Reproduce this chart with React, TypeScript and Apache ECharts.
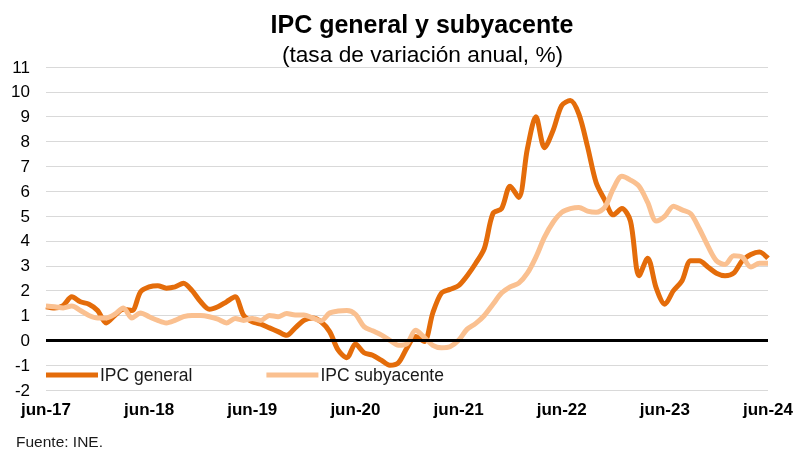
import React, { useEffect, useRef } from "react";
import * as echarts from "echarts";

const monthNames = ["ene", "feb", "mar", "abr", "may", "jun", "jul", "ago", "sep", "oct", "nov", "dic"];
const categories: string[] = [];
for (let k = 0; k < 85; k++) {
  const m = (5 + k) % 12;
  const y = 17 + Math.floor((5 + k) / 12);
  categories.push(`${monthNames[m]}-${y}`);
}

const ipcGeneral = [
  1.35, 1.3, 1.4, 1.75, 1.55, 1.45, 1.2, 0.7, 1.0, 1.25,
  1.2, 1.95, 2.15, 2.2, 2.1, 2.15, 2.3, 2.0, 1.55, 1.25,
  1.35, 1.55, 1.75, 1.0, 0.75, 0.65, 0.5, 0.35, 0.2, 0.5,
  0.8, 0.9, 0.75, 0.35, -0.4, -0.7, -0.15, -0.5, -0.6, -0.8,
  -1.0, -0.9, -0.3, 0.15, -0.05, 1.1, 1.9, 2.05, 2.2, 2.6,
  3.1, 3.7, 5.1, 5.3, 6.2, 5.75, 7.7, 9.0, 7.75, 8.45,
  9.45, 9.65, 9.1, 7.8, 6.35, 5.65, 5.05, 5.3, 4.8, 2.6,
  3.3, 2.1, 1.45, 2.0, 2.4, 3.2, 3.2, 2.95, 2.7, 2.6,
  2.7, 3.2, 3.45, 3.55, 3.3,
];

const ipcSubyacente = [
  1.38, 1.35, 1.3, 1.38, 1.2, 1.0, 0.9, 0.9, 1.05, 1.3,
  0.9, 1.1, 0.95, 0.8, 0.7, 0.8, 0.95, 1.0, 1.0, 0.95,
  0.85, 0.7, 0.88, 0.8, 0.88, 0.8, 1.0, 0.95, 1.08, 1.02,
  1.02, 0.9, 0.78, 1.1, 1.18, 1.2, 1.05, 0.55, 0.38, 0.22,
  0.0, -0.2, -0.13, 0.4, 0.12, -0.2, -0.3, -0.26, 0.0, 0.45,
  0.68, 1.0, 1.45, 1.9, 2.15, 2.3, 2.7, 3.35, 4.15, 4.75,
  5.15, 5.3, 5.35, 5.2, 5.15, 5.35, 6.1, 6.6, 6.45, 6.2,
  5.55, 4.8, 5.0, 5.4, 5.25, 5.1, 4.5, 3.8, 3.2, 3.05,
  3.4, 3.35, 2.95, 3.1, 3.1,
];

const seriesNames = ["IPC general", "IPC subyacente"];
const titleText = "IPC general y subyacente";
const subtitleText = "(tasa de variación anual, %)";
const sourceText = "Fuente: INE.";

export default function App() {
  const ref = useRef<HTMLDivElement>(null);
  useEffect(() => {
    document.body.style.margin = "0";
    const chart = echarts.init(ref.current!, undefined, { renderer: "svg" });
    const font = "Liberation Sans, Arial, sans-serif";
    chart.setOption({
      animation: false,
      textStyle: { fontFamily: font },
      grid: { left: 46, right: 29, top: 67, bottom: 61 },
      legend: {
        data: seriesNames,
        left: 46,
        top: 366,
        padding: 0,
        icon: "rect",
        itemWidth: 52,
        itemHeight: 5,
        itemGap: 74,
        textStyle: { fontSize: 17.5, color: "#1a1a1a", fontFamily: font, padding: [0, 0, 0, -3] },
      },
      xAxis: {
        type: "category",
        data: categories,
        boundaryGap: false,
        axisLine: { show: false },
        axisTick: { show: false },
        splitLine: { show: false },
        axisLabel: {
          interval: 11,
          fontSize: 17,
          fontWeight: "bold",
          color: "#000",
          margin: 11,
          fontFamily: font,
          formatter: (v: string) => v,
        },
      },
      yAxis: {
        type: "value",
        min: -2,
        max: 11,
        interval: 1,
        axisLine: { show: false },
        axisTick: { show: false },
        axisLabel: { fontSize: 17, color: "#000", margin: 16, fontFamily: font },
        splitLine: { lineStyle: { color: "#d9d9d9", width: 1 } },
      },
      series: [
        {
          name: "zero",
          type: "line",
          data: [],
          z: 1,
          silent: true,
          markLine: {
            silent: true,
            symbol: ["none", "none"],
            label: { show: false },
            lineStyle: { color: "#000", width: 3, type: "solid" },
            data: [{ yAxis: 0 }],
          },
        },
        {
          name: seriesNames[0],
          type: "line",
          data: ipcGeneral,
          showSymbol: false,
          symbol: "none",
          smooth: 0.3,
          z: 3,
          lineStyle: { color: "#e46c0a", width: 5 },
          itemStyle: { color: "#e46c0a" },
        },
        {
          name: seriesNames[1],
          type: "line",
          data: ipcSubyacente,
          showSymbol: false,
          symbol: "none",
          smooth: 0.3,
          z: 4,
          lineStyle: { color: "#fac090", width: 5 },
          itemStyle: { color: "#fac090" },
        },
      ],
      graphic: [
        {
          type: "text",
          x: 422,
          y: 11,
          style: { text: titleText, font: `bold 25px ${font}`, fill: "#000", textAlign: "center" },
        },
        {
          type: "text",
          x: 422.5,
          y: 42,
          style: { text: subtitleText, font: `22.7px ${font}`, fill: "#000", textAlign: "center" },
        },
        {
          type: "text",
          x: 16,
          y: 433,
          style: { text: sourceText, font: `15.5px ${font}`, fill: "#1a1a1a", textAlign: "left" },
        },
      ],
    });
    return () => chart.dispose();
  }, []);
  return <div ref={ref} style={{ position: "fixed", left: 0, top: 0, width: 797, height: 451 }} />;
}
